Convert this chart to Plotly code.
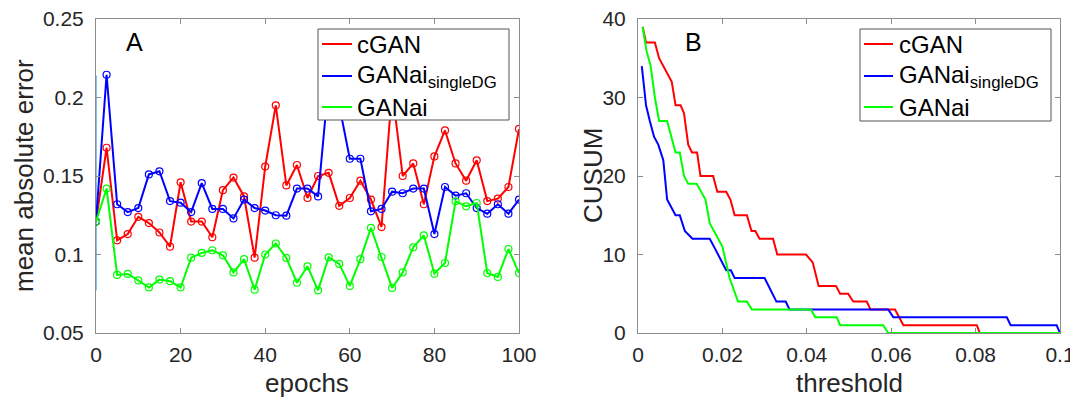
import plotly.graph_objects as go

# ---------------- Panel A data ----------------
epochs = [i * 2.5 for i in range(41)]
cgan_mae = [0.121, 0.168, 0.109, 0.113, 0.124, 0.120, 0.114, 0.105, 0.146, 0.121,
            0.121, 0.111, 0.141, 0.149, 0.137, 0.098, 0.156, 0.195, 0.144, 0.157,
            0.136, 0.150, 0.152, 0.131, 0.136, 0.147, 0.135, 0.1175, 0.205, 0.150,
            0.158, 0.132, 0.1625, 0.179, 0.158, 0.147, 0.160, 0.134, 0.1356, 0.143,
            0.180]
single_mae = [0.121, 0.2145, 0.132, 0.127, 0.1296, 0.151, 0.153, 0.134, 0.133, 0.127,
              0.1455, 0.129, 0.129, 0.123, 0.135, 0.1296, 0.128, 0.125, 0.1247, 0.142,
              0.142, 0.137, 0.21, 0.195, 0.161, 0.161, 0.1275, 0.129, 0.140, 0.139,
              0.142, 0.142, 0.113, 0.143, 0.1375, 0.139, 0.1296, 0.126, 0.132, 0.126,
              0.135]
ganai_mae = [0.121, 0.142, 0.087, 0.0876, 0.0835, 0.079, 0.084, 0.083, 0.079, 0.098,
             0.101, 0.1027, 0.0995, 0.0886, 0.097, 0.0776, 0.100, 0.107, 0.0978, 0.082,
             0.0925, 0.0772, 0.0982, 0.094, 0.080, 0.097, 0.117, 0.0984, 0.0787, 0.0886,
             0.1046, 0.1122, 0.0878, 0.0946, 0.1339, 0.1307, 0.1328, 0.0882, 0.0857, 0.1035,
             0.0882]
edge_x = [0, 0]
edge_y = [0.077, 0.214]

# ---------------- Panel B data ----------------
cgan_t = [0.0011, 0.0019, 0.0040, 0.0050, 0.0080, 0.0089, 0.0101, 0.0109, 0.0119, 0.0128,
          0.0140, 0.0148, 0.0178, 0.0188, 0.0209, 0.0219, 0.0229, 0.0258, 0.0269, 0.0278,
          0.0288, 0.0320, 0.0330, 0.0398, 0.0414, 0.0428, 0.0469, 0.0479, 0.0498, 0.0510,
          0.0542, 0.0551, 0.0609, 0.0629, 0.0803, 0.0810, 0.1000]
cgan_c = [39, 37, 37, 35, 32, 29, 29, 28, 24, 23,
          23, 20, 20, 18, 18, 17, 15, 15, 13, 13,
          12, 12, 10, 10, 9, 6, 6, 5, 5, 4,
          4, 3, 3, 1, 1, 0, 0]
single_t = [0.0009, 0.0019, 0.0028, 0.0038, 0.0048, 0.0060, 0.0069, 0.0089, 0.0099, 0.0111,
            0.0129, 0.0170, 0.0180, 0.0209, 0.0220, 0.0229, 0.0300, 0.0328, 0.0350, 0.0359,
            0.0593, 0.0605, 0.0874, 0.0883, 0.0992, 0.1000]
single_c = [34, 29, 27, 25, 24, 22, 17, 15, 15, 13,
            12, 12, 11, 8, 8, 7, 7, 4, 4, 3,
            3, 2, 2, 1, 1, 0]
ganai_t = [0.0011, 0.0020, 0.0030, 0.0040, 0.0050, 0.0069, 0.0089, 0.0099, 0.0109, 0.0119,
           0.0139, 0.0160, 0.0170, 0.0200, 0.0217, 0.0237, 0.0258, 0.0270, 0.0410, 0.0420,
           0.0471, 0.0479, 0.0581, 0.0593, 0.1000]
ganai_c = [39, 36, 34, 30, 27, 27, 23, 23, 20, 19,
           19, 17, 14, 11, 7, 4, 4, 3, 3, 2,
           2, 1, 1, 0, 0]

names = ["cGAN", "GANai<sub>singleDG</sub>", "GANai"]
colors = ["#ff0000", "#0000ff", "#00ff00"]

FONT = "Liberation Sans, Arial, Helvetica, sans-serif"
TXT = "#262626"
AX = "#8c8c8c"

# page body has an 8px margin: build the figure in page pixels minus that offset
OFF = 8
W, H = 1078 - OFF, 400 - OFF


def px(x):
    return (x - OFF) / W


def py(y):
    return 1 - (y - OFF) / H


fig = go.Figure()

# Panel A traces
fig.add_trace(go.Scatter(x=edge_x, y=edge_y, mode="lines", line=dict(color="#5aaee0", width=1.5),
                         showlegend=False, xaxis="x", yaxis="y", hoverinfo="skip"))
for ys, n, c in zip([cgan_mae, single_mae, ganai_mae], names, colors):
    fig.add_trace(go.Scatter(x=epochs, y=ys, mode="lines+markers", name=n,
                             line=dict(color=c, width=2),
                             marker=dict(symbol="circle-open", size=7, color=c, line=dict(width=1.2, color=c)),
                             showlegend=False, xaxis="x", yaxis="y"))

# Panel B traces
for (xs, ys), n, c in zip([(cgan_t, cgan_c), (single_t, single_c), (ganai_t, ganai_c)], names, colors):
    fig.add_trace(go.Scatter(x=xs, y=ys, mode="lines", name=n,
                             line=dict(color=c, width=2), showlegend=False,
                             xaxis="x2", yaxis="y2"))

ydom = [py(333), py(19)]
axis_common = dict(showline=True, linecolor=AX, linewidth=1, mirror="ticks",
                   ticks="inside", ticklen=5, tickcolor=AX, tickwidth=1,
                   showgrid=False, zeroline=False, automargin=False,
                   ticklabeloverflow="allow",
                   tickfont=dict(family=FONT, size=21, color=TXT))

# MATLAB-style legend boxes (box, sample lines, labels)
shapes = []
annotations = []
legend_boxes = [
    dict(x0=318, x1=509, y0=29, y1=120, lx0=322, lx1=352, tx=355, ys=[44, 76, 107]),
    dict(x0=860, x1=1051, y0=29, y1=121, lx0=864, lx1=893, tx=897, ys=[44, 76, 107]),
]
for lb in legend_boxes:
    shapes.append(dict(type="rect", xref="paper", yref="paper",
                       x0=px(lb["x0"]), x1=px(lb["x1"]), y0=py(lb["y1"]), y1=py(lb["y0"]),
                       line=dict(color="#555555", width=1), fillcolor="white", layer="above"))
    for n, c, yy in zip(names, colors, lb["ys"]):
        shapes.append(dict(type="line", xref="paper", yref="paper",
                           x0=px(lb["lx0"]), x1=px(lb["lx1"]), y0=py(yy), y1=py(yy),
                           line=dict(color=c, width=2), layer="above"))
        annotations.append(dict(text=n, x=px(lb["tx"]), y=py(yy + 1), xref="paper", yref="paper",
                                showarrow=False, xanchor="left", yanchor="middle",
                                font=dict(family=FONT, size=24, color="black")))

annotations += [
    dict(text="A", x=px(134), y=py(42), xref="paper", yref="paper", showarrow=False,
         font=dict(family=FONT, size=25, color="black"), xanchor="center", yanchor="middle"),
    dict(text="B", x=px(693), y=py(42), xref="paper", yref="paper", showarrow=False,
         font=dict(family=FONT, size=25, color="black"), xanchor="center", yanchor="middle"),
    dict(text="epochs", x=px(307), y=py(383), xref="paper", yref="paper", showarrow=False,
         font=dict(family=FONT, size=26, color=TXT), xanchor="center", yanchor="middle"),
    dict(text="threshold", x=px(849), y=py(383), xref="paper", yref="paper", showarrow=False,
         font=dict(family=FONT, size=26, color=TXT), xanchor="center", yanchor="middle"),
    dict(text="mean absolute error", x=px(24), y=py(176), xref="paper", yref="paper",
         showarrow=False, textangle=-90,
         font=dict(family=FONT, size=26, color=TXT), xanchor="center", yanchor="middle"),
    dict(text="CUSUM", x=px(593), y=py(176), xref="paper", yref="paper",
         showarrow=False, textangle=-90,
         font=dict(family=FONT, size=26, color=TXT), xanchor="center", yanchor="middle"),
]

fig.update_layout(
    width=W, height=H,
    margin=dict(l=0, r=0, t=0, b=0, autoexpand=False),
    paper_bgcolor="white", plot_bgcolor="white",
    showlegend=False,
    xaxis=dict(domain=[px(96), px(519)], range=[0, 100], tickvals=[0, 20, 40, 60, 80, 100],
               anchor="y", ticklabelstandoff=3, **axis_common),
    yaxis=dict(domain=ydom, range=[0.05, 0.25], tickvals=[0.05, 0.1, 0.15, 0.2, 0.25],
               ticktext=["0.05", "0.1", "0.15", "0.2", "0.25"], anchor="x", ticklabelstandoff=7, **axis_common),
    xaxis2=dict(domain=[px(638), px(1060)], range=[0, 0.1], tickvals=[0, 0.02, 0.04, 0.06, 0.08, 0.1],
                ticktext=["0", "0.02", "0.04", "0.06", "0.08", "0.1"], anchor="y2", ticklabelstandoff=3, **axis_common),
    yaxis2=dict(domain=ydom, range=[0, 40], tickvals=[0, 10, 20, 30, 40], anchor="x2",
                ticklabelstandoff=7, **axis_common),
    shapes=shapes,
    annotations=annotations,
)

fig.write_html("out.html")
